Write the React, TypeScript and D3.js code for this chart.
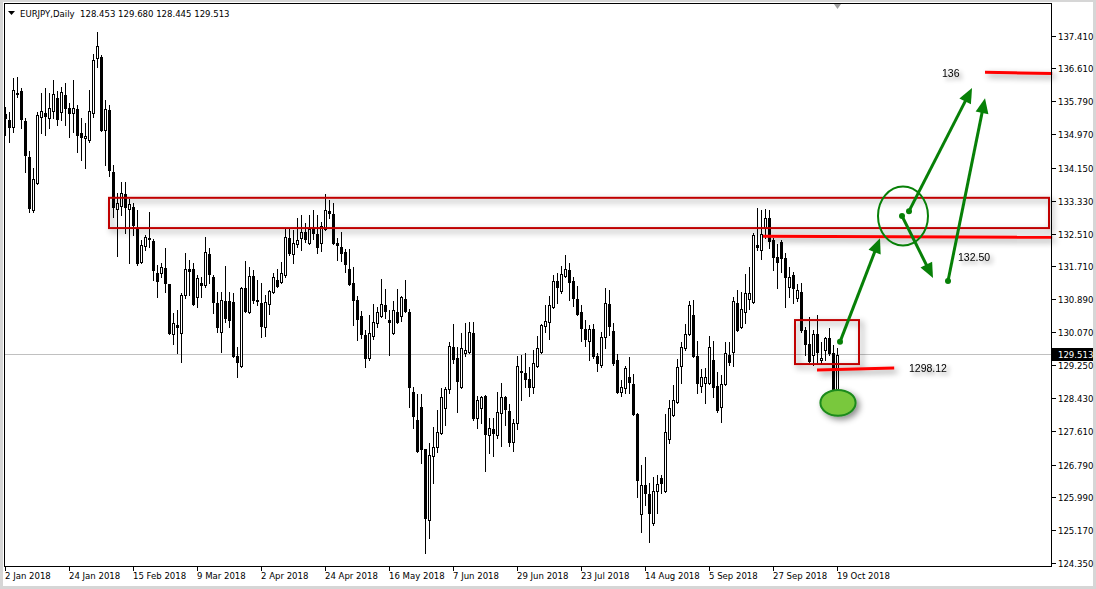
import React from 'react';
import * as d3 from 'd3';

// --- EURJPY daily bars, [open, high, low, close] ---
type Bar = [number, number, number, number];

const jan: Bar[] = [
    [135.48, 135.65, 134.96, 135.38], [135.33, 135.53, 134.78, 135.15], [135.15, 136.37, 135.03, 136.07],
    [136.00, 136.39, 135.90, 135.98], [136.05, 136.12, 135.13, 135.35], [135.30, 135.38, 134.04, 134.46],
    [134.41, 134.56, 133.05, 133.15], [133.10, 134.14, 133.05, 133.87], [133.77, 135.53, 133.74, 135.45],
    [135.40, 135.99, 135.01, 135.55], [135.50, 136.12, 134.96, 135.43], [135.38, 135.99, 135.13, 135.63],
    [135.55, 136.32, 135.38, 135.97], [135.87, 136.05, 135.20, 135.35], [135.53, 136.15, 135.33, 136.02],
    [135.95, 136.25, 135.20, 135.63], [135.63, 135.75, 134.91, 135.50], [135.50, 136.31, 135.03, 135.63],
    [135.60, 135.70, 134.54, 134.96], [135.01, 135.38, 134.34, 134.91], [134.88, 135.25, 134.14, 134.93],
    [134.83, 136.07, 134.78, 135.55],
];
const feb: Bar[] = [
    [135.50, 136.96, 135.40, 136.82], [136.86, 137.51, 136.64, 137.16], [136.89, 136.94, 135.06, 135.08],
    [135.08, 135.82, 134.21, 135.60], [135.58, 135.70, 133.94, 134.09], [134.04, 134.21, 132.93, 133.17],
    [133.12, 133.52, 131.96, 133.27], [133.20, 133.79, 132.97, 133.52], [133.49, 133.79, 132.53, 133.17],
    [133.12, 133.37, 131.79, 133.25], [133.17, 133.27, 132.48, 132.73], [132.63, 133.10, 131.74, 131.79],
    [131.81, 132.35, 131.79, 132.23], [132.21, 132.48, 132.11, 132.43], [132.40, 133.05, 132.18, 132.38],
    [132.33, 132.38, 131.36, 131.61], [131.54, 131.74, 130.94, 131.34], [131.54, 131.79, 131.44, 131.69],
    [131.66, 132.16, 131.07, 131.29], [131.26, 131.26, 130.03, 130.05],
];
const mar: Bar[] = [
    [130.03, 130.55, 129.78, 130.30], [130.25, 130.62, 129.55, 130.20], [130.05, 131.04, 129.33, 130.99],
    [130.99, 132.03, 130.92, 131.64], [131.64, 131.86, 130.99, 131.59], [131.64, 131.79, 130.74, 130.77],
    [130.94, 131.49, 130.69, 131.41], [131.29, 131.44, 130.94, 131.24], [131.24, 132.43, 131.19, 132.06],
    [132.01, 132.16, 131.29, 131.51], [131.44, 131.49, 130.55, 130.82], [130.79, 131.07, 130.08, 130.20],
    [130.08, 131.07, 129.58, 130.87], [130.84, 131.71, 130.32, 130.42], [130.84, 131.07, 130.20, 130.37],
    [130.82, 131.04, 129.46, 129.48], [129.48, 129.70, 128.96, 129.33], [129.23, 131.19, 129.21, 131.17],
    [131.17, 131.83, 130.57, 130.60], [130.57, 131.69, 130.55, 131.46], [131.46, 131.61, 130.79, 130.87],
    [130.87, 131.36, 130.74, 130.84],
];
const apr: Bar[] = [
    [130.79, 131.29, 129.95, 130.22], [130.20, 130.99, 129.98, 130.82], [130.77, 131.12, 130.52, 131.09],
    [131.07, 131.54, 131.04, 131.44], [131.36, 131.64, 131.19, 131.21], [131.31, 131.81, 131.29, 131.54],
    [131.49, 132.65, 131.44, 132.43], [132.40, 132.65, 131.98, 132.03], [132.01, 132.60, 131.79, 132.28],
    [132.25, 132.90, 132.18, 132.35], [132.40, 132.97, 132.11, 132.55], [132.55, 132.78, 132.30, 132.38],
    [132.28, 132.97, 132.25, 132.63], [132.65, 133.10, 132.38, 132.53], [132.50, 132.97, 132.03, 132.18],
    [132.28, 132.80, 132.08, 132.70], [132.63, 133.49, 132.60, 133.10], [133.07, 133.35, 132.90, 133.02],
    [133.00, 133.27, 132.25, 132.28], [132.28, 132.40, 131.86, 132.23], [132.18, 132.55, 131.83, 132.03],
];
const may: Bar[] = [
    [132.06, 132.13, 131.56, 131.76], [131.64, 132.13, 131.24, 131.26], [131.29, 131.69, 130.25, 130.87],
    [130.87, 130.97, 129.88, 130.40], [130.47, 130.60, 129.93, 130.03], [130.00, 130.12, 129.21, 129.43],
    [129.43, 130.50, 129.38, 130.05], [129.98, 130.77, 129.90, 130.32], [130.30, 130.69, 130.20, 130.57],
    [130.47, 131.39, 130.45, 130.77], [130.74, 131.14, 130.42, 130.60], [130.37, 130.62, 129.50, 130.32],
    [130.05, 130.84, 130.03, 130.62], [130.57, 131.14, 130.30, 130.32], [130.47, 130.97, 130.35, 130.94],
    [130.89, 131.36, 130.57, 130.60], [130.57, 130.64, 128.22, 128.71], [128.59, 128.71, 127.70, 127.99],
    [127.89, 128.54, 127.10, 127.13], [128.22, 128.54, 126.83, 127.18], [127.18, 127.18, 124.60, 125.47],
    [125.42, 127.32, 124.97, 127.03], [127.00, 127.72, 126.33, 127.23],
];
const jun: Bar[] = [
    [127.23, 128.14, 127.10, 127.60], [127.57, 128.69, 127.55, 128.46], [128.19, 128.71, 127.77, 128.66],
    [128.66, 129.83, 128.56, 129.73], [129.70, 130.27, 129.31, 129.40], [129.43, 129.70, 128.09, 128.86],
    [128.71, 130.05, 128.69, 129.68], [129.55, 130.30, 129.48, 129.63], [129.58, 130.32, 129.55, 130.08],
    [130.05, 130.32, 127.89, 127.94], [127.94, 128.49, 127.70, 128.39], [128.19, 128.49, 127.82, 128.46],
    [128.49, 128.51, 126.63, 127.55], [127.52, 127.94, 127.08, 127.70], [127.67, 127.94, 127.00, 127.57],
    [127.52, 128.59, 127.45, 128.09], [128.07, 128.81, 127.25, 128.46], [128.46, 128.49, 127.77, 128.17],
    [128.12, 128.29, 127.25, 127.35], [127.35, 127.92, 127.13, 127.82], [127.82, 129.48, 127.67, 129.23],
];
const jul: Bar[] = [
    [129.11, 129.50, 128.39, 129.08], [129.06, 129.55, 128.71, 128.91], [128.91, 129.21, 128.49, 128.71],
    [128.71, 129.63, 128.56, 129.31], [129.23, 129.98, 129.21, 129.68], [129.58, 130.27, 129.55, 130.25],
    [130.22, 130.74, 130.08, 130.35], [130.32, 130.97, 129.90, 130.74], [130.69, 131.49, 130.67, 131.34],
    [131.34, 131.54, 130.79, 131.19], [131.09, 131.71, 131.04, 131.51], [131.46, 131.98, 131.44, 131.64],
    [131.61, 131.79, 130.87, 131.31], [131.34, 131.44, 130.72, 130.92], [130.89, 131.21, 130.50, 130.52],
    [130.57, 130.74, 129.85, 130.17], [130.15, 130.37, 129.73, 129.90], [129.85, 130.25, 129.38, 130.15],
    [130.15, 130.27, 129.43, 129.48], [129.48, 129.55, 129.11, 129.31], [129.26, 130.08, 129.21, 129.95],
    [129.95, 131.17, 129.68, 130.79],
];
const aug: Bar[] = [
    [130.77, 131.12, 130.00, 130.22], [130.10, 130.30, 129.26, 129.31], [129.38, 129.53, 128.56, 128.59],
    [128.59, 128.89, 128.49, 128.71], [128.69, 129.23, 128.56, 129.18], [128.96, 129.45, 128.56, 128.84],
    [128.79, 129.04, 128.02, 128.04], [128.04, 128.07, 125.99, 126.41], [125.56, 126.78, 125.12, 126.28],
    [126.28, 126.98, 125.79, 126.09], [126.06, 126.33, 124.87, 125.59], [125.34, 126.48, 125.29, 126.13],
    [126.13, 126.53, 125.59, 126.31], [126.46, 126.53, 126.09, 126.33], [126.13, 128.04, 126.11, 127.60],
    [127.42, 128.39, 127.32, 128.19], [128.02, 128.76, 127.99, 128.39], [128.34, 129.40, 128.31, 129.21],
    [129.23, 129.83, 128.81, 129.70], [129.68, 130.27, 129.63, 130.03], [130.03, 130.84, 130.00, 130.74],
    [130.50, 130.87, 129.45, 129.48], [129.48, 129.85, 128.56, 128.81],
];
const sep: Bar[] = [
    [128.74, 129.16, 128.59, 128.96], [128.81, 129.18, 128.31, 128.96], [128.81, 129.98, 128.79, 129.70],
    [129.38, 129.85, 128.46, 128.71], [128.74, 129.08, 128.09, 128.14], [128.22, 129.01, 127.84, 128.79],
    [128.79, 129.83, 128.76, 129.55], [129.50, 129.83, 129.26, 129.33], [129.58, 130.94, 129.23, 130.84],
    [130.79, 131.12, 130.10, 130.12], [130.20, 131.07, 130.17, 130.64], [130.57, 131.51, 130.30, 131.04],
    [130.89, 131.69, 130.64, 131.04], [130.82, 132.53, 130.79, 132.48], [132.23, 133.15, 132.11, 132.18],
    [132.11, 133.10, 131.88, 132.50], [132.65, 133.12, 132.40, 132.90], [132.90, 133.10, 132.16, 132.33],
    [132.35, 132.40, 131.61, 131.93], [131.93, 132.25, 131.17, 131.81],
];
const oct: Bar[] = [
    [132.30, 132.35, 131.56, 131.91], [131.91, 132.03, 130.69, 131.44], [131.19, 131.69, 130.94, 131.44],
    [131.49, 131.56, 130.79, 131.17], [130.92, 131.26, 130.84, 131.12], [131.07, 131.29, 130.08, 130.12],
    [130.12, 130.20, 129.50, 129.78], [129.78, 130.45, 129.33, 129.36], [129.50, 130.12, 129.26, 130.03],
    [130.03, 130.50, 129.31, 129.58], [129.38, 129.83, 129.28, 129.43], [129.63, 129.95, 129.38, 129.93],
    [129.93, 130.17, 129.50, 129.55], [129.55, 129.75, 128.30, 128.59], [128.453, 129.680, 128.445, 129.513],
];

const priceTicks = [137.41, 136.61, 135.79, 134.97, 134.15, 133.33, 132.51, 131.71, 130.89,
    130.07, 129.25, 128.43, 127.61, 126.79, 125.99, 125.17, 124.35];

const title = 'EURJPY,Daily';
const dateEvery = 16;

// --- drawn annotations, in bar index / price units ---
const zoneBox = { i0: 26, i1: 261, top: 133.40, bottom: 132.65 };
const smallBox = { i0: 197.5, i1: 213.5, top: 130.37, bottom: 129.28 };
const levelLines = [
    { i0: 245, i1: 261.8, p0: 136.51, p1: 136.48 },
    { i0: 189.5, i1: 261.8, p0: 132.45, p1: 132.42 },
    { i0: 203, i1: 222.3, p0: 129.13, p1: 129.18 },
];
const notes = [
    { i: 234.25, p: 136.49, text: '136' },
    { i: 238.25, p: 131.93, text: '132.50' },
    { i: 226, p: 129.18, text: '1298.12' },
];
const arrows = [
    { i0: 208.75, p0: 129.83, i1: 218.75, p1: 132.40 },
    { i0: 226, p0: 133.07, i1: 241.75, p1: 136.12 },
    { i0: 224.25, p0: 132.95, i1: 232, p1: 131.41 },
    { i0: 235.75, p0: 131.34, i1: 245, p1: 135.87 },
];
const ring = { i: 224.5, p: 132.95, ri: 6.25, rp: 0.73 };
const lowMark = { i: 208.25, p: 128.32, ri: 4.4, rp: 0.32 };

const FONT = "'DejaVu Sans Condensed', 'DejaVu Sans', sans-serif";
const GREEN = '#078007';

export default function App() {
    const bars: Bar[] = [...jan, ...feb, ...mar, ...apr, ...may, ...jun, ...jul, ...aug, ...sep, ...oct];
    const n = bars.length;
    const last = bars[n - 1];

    const dates = d3.timeDay.range(new Date(2018, 0, 2), new Date(2018, 9, 20))
        .filter(d => d.getDay() !== 0 && d.getDay() !== 6);
    const fmt = d3.timeFormat('%-d %b %Y');

    const x = d3.scaleLinear().domain([0, n - 1]).range([5, 5 + (n - 1) * 4]);
    const y = d3.scaleLinear().domain([124.35, 137.41]).range([563, 36]);

    const W = 1096, H = 589;
    const plot = { l: 4, t: 3, r: 1051, b: 566 };

    const priceY = Math.round(y(last[3])) - 0.5;

    const arrowShape = (a: typeof arrows[0], k: number) => {
        const x1 = x(a.i0), y1 = y(a.p0), x2 = x(a.i1), y2 = y(a.p1);
        const len = Math.hypot(x2 - x1, y2 - y1);
        const ux = (x2 - x1) / len, uy = (y2 - y1) / len;
        const L = 15, hw = 6.5;
        const bx = x2 - ux * L, by = y2 - uy * L;
        const pts = [[x2, y2], [bx - uy * hw, by + ux * hw], [bx + uy * hw, by - ux * hw]];
        return (
            <g key={k}>
                <line x1={x1} y1={y1} x2={x2 - ux * (L - 2)} y2={y2 - uy * (L - 2)} stroke={GREEN} strokeWidth={3} />
                <polygon points={pts.map(p => p.join(',')).join(' ')} fill={GREEN} />
                <circle cx={x1} cy={y1} r={3} fill={GREEN} />
            </g>
        );
    };

    return (
        <svg width={W} height={H} style={{ position: 'fixed', left: 0, top: 0, background: '#fff' }}>
            <defs>
                <filter id="shadow" filterUnits="userSpaceOnUse" x={0} y={0} width={W} height={H}>
                    <feDropShadow dx={3} dy={3} stdDeviation={3} floodColor="#000" floodOpacity={0.45} />
                </filter>
                <filter id="txtShadow" filterUnits="userSpaceOnUse" x={0} y={0} width={W} height={H}>
                    <feDropShadow dx={3} dy={3} stdDeviation={2} floodColor="#000" floodOpacity={0.4} />
                </filter>
            </defs>

            {/* window frame */}
            <rect x={0} y={0} width={W} height={H} fill="#fff" />
            <rect x={0} y={0} width={3} height={H} fill="#d6d6d6" />
            <rect x={0} y={0} width={W} height={2} fill="#d6d6d6" />
            <rect x={W - 3} y={0} width={3} height={H} fill="#d6d6d6" />
            <rect x={0} y={H - 3} width={W} height={3} fill="#d6d6d6" />

            {/* current price line */}
            <line x1={plot.l} x2={plot.r} y1={priceY} y2={priceY} stroke="#c0c0c0" strokeWidth={1} />

            {/* candles */}
            <g>
                {bars.map(([o, h, l, c], i) => {
                    const px = Math.round(x(i));
                    const cx = px + 0.5;
                    const yH = Math.round(y(h)), yL = Math.round(y(l));
                    const top = Math.round(y(Math.max(o, c))), bot = Math.round(y(Math.min(o, c)));
                    const bull = c >= o;
                    return (
                        <g key={i}>
                            <line x1={cx} x2={cx} y1={yH} y2={yL + 1} stroke="#000" strokeWidth={1} />
                            {bot - top < 1
                                ? <line x1={px - 1} x2={px + 2} y1={top + 0.5} y2={top + 0.5} stroke="#000" />
                                : <rect x={px - 0.5} y={top + 0.5} width={2} height={bot - top}
                                    fill={bull ? '#fff' : '#000'} stroke="#000" strokeWidth={1} />}
                        </g>
                    );
                })}
            </g>

            {/* resistance zone and consolidation box */}
            <g filter="url(#shadow)">
                <rect x={x(zoneBox.i0)} y={y(zoneBox.top)} width={x(zoneBox.i1) - x(zoneBox.i0)}
                    height={y(zoneBox.bottom) - y(zoneBox.top)} fill="none" stroke="#c00000" strokeWidth={2} />
                <rect x={x(smallBox.i0)} y={y(smallBox.top)} width={x(smallBox.i1) - x(smallBox.i0)}
                    height={y(smallBox.bottom) - y(smallBox.top)} fill="none" stroke="#c00000" strokeWidth={2} />
                {levelLines.map((d, k) => (
                    <line key={k} x1={x(d.i0)} x2={x(d.i1)} y1={y(d.p0)} y2={y(d.p1)} stroke="#ff0000" strokeWidth={3} />
                ))}
            </g>

            {/* level notes */}
            <g filter="url(#txtShadow)">
                {notes.map((d, k) => (
                    <text key={k} x={x(d.i)} y={y(d.p) + 4} fontFamily="'Liberation Sans', Arial, sans-serif"
                        fontSize={10.5} fill="#000">{d.text}</text>
                ))}
            </g>

            {/* scenario arrows */}
            <ellipse cx={x(ring.i)} cy={y(ring.p)} rx={x(ring.i + ring.ri) - x(ring.i)}
                ry={y(ring.p - ring.rp) - y(ring.p)} fill="none" stroke={GREEN} strokeWidth={2} />
            {arrows.map(arrowShape)}
            <ellipse cx={x(lowMark.i)} cy={y(lowMark.p)} rx={x(lowMark.i + lowMark.ri) - x(lowMark.i)}
                ry={y(lowMark.p - lowMark.rp) - y(lowMark.p)} fill="#79c83e" stroke="#1c8a1c" strokeWidth={2}
                filter="url(#shadow)" />

            {/* plot border */}
            <rect x={plot.l + 0.5} y={plot.t + 0.5} width={plot.r - plot.l} height={plot.b - plot.t}
                fill="none" stroke="#000" strokeWidth={1} />

            {/* header */}
            <polygon points="8,11 15,11 11.5,15" fill="#000" />
            <text x={20} y={16.5} fontFamily={FONT} fontSize={9.5} fill="#000">
                {title}{'\u00a0\u00a0'}{last.map(v => v.toFixed(3)).join(' ')}
            </text>
            <polygon points={`${x(n - 1) - 3},4 ${x(n - 1) + 4},4 ${x(n - 1) + 0.5},9`} fill="#a0a0a0" />

            {/* price axis */}
            <g fontFamily={FONT} fontSize={9.5} fill="#000">
                {priceTicks.map(v => {
                    const ty = Math.round(y(v)) + 0.5;
                    return (
                        <g key={v}>
                            <line x1={plot.r + 1} x2={plot.r + 5} y1={ty} y2={ty} stroke="#000" />
                            <text x={plot.r + 7} y={ty + 3.5}>{v.toFixed(3)}</text>
                        </g>
                    );
                })}
                <rect x={plot.r + 1} y={priceY - 6.5} width={41} height={13} fill="#000" />
                <text x={plot.r + 7} y={priceY + 3.5} fill="#fff">{last[3].toFixed(3)}</text>
            </g>

            {/* time axis */}
            <g fontFamily={FONT} fontSize={9.5} fill="#000">
                {dates.map((d, i) => i % dateEvery === 0 ? (
                    <g key={i}>
                        <line x1={Math.round(x(i)) + 0.5} x2={Math.round(x(i)) + 0.5} y1={plot.b} y2={plot.b + 5} stroke="#000" />
                        <text x={Math.round(x(i))} y={579}>{fmt(d)}</text>
                    </g>
                ) : null)}
            </g>
        </svg>
    );
}
